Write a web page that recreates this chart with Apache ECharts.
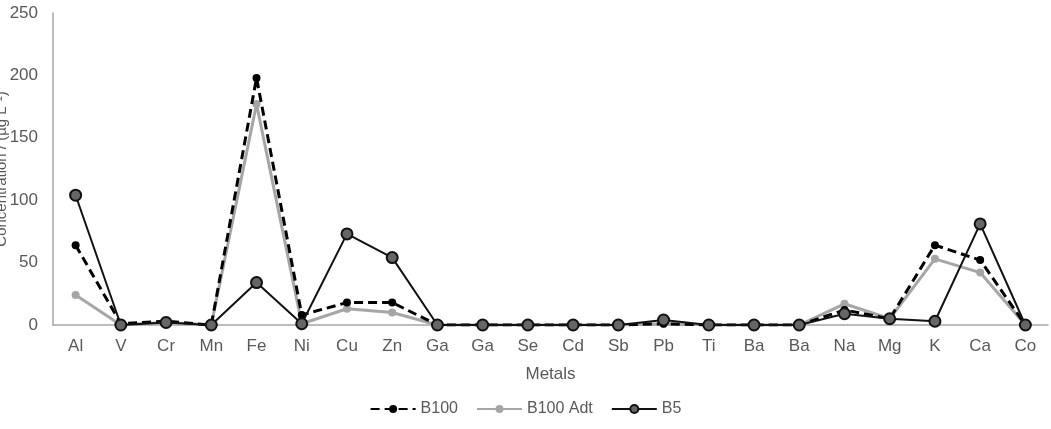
<!DOCTYPE html>
<html>
<head>
<meta charset="utf-8">
<script src="https://cdn.jsdelivr.net/npm/echarts@6/dist/echarts.min.js"></script>
<style>
  html, body { margin: 0; padding: 0; background: #fff; }
  #chart { width: 1051px; height: 429px; }
</style>
</head>
<body>
<div id="chart"></div>
<script>
// categories (metals)
const metals = ['Al', 'V', 'Cr', 'Mn', 'Fe', 'Ni', 'Cu', 'Zn', 'Ga', 'Ga', 'Se', 'Cd', 'Sb', 'Pb', 'Ti', 'Ba', 'Ba', 'Na', 'Mg', 'K', 'Ca', 'Co'];

// concentrations
const b100    = [64, 1, 3, 0, 198, 8, 18, 18, 0, 0, 0, 0, 0, 1, 0, 0, 0, 12, 5, 64, 52, 0];
const b100Adt = [24, 0, 2, 0, 177, 1, 13, 10, 0, 0, 0, 0, 0, 1, 0, 0, 0, 17, 5, 53, 42, 0];
const b5      = [104, 0, 2, 0, 34, 1, 73, 54, 0, 0, 0, 0, 0, 4, 0, 0, 0, 9, 5, 3, 81, 0];

const yTicks = { min: 0, max: 250, interval: 50 };

let myChart = echarts.init(document.getElementById('chart'));
const options = {
    animation: false,
    textStyle: { fontFamily: 'Liberation Sans, Arial, sans-serif' },
    grid: { left: 53, right: 3, top: 13, bottom: 104, outerBoundsMode: 'none', containLabel: false },
    legend: {
        bottom: 7,
        left: 'center',
        itemGap: 18,
        itemWidth: 45,
        itemHeight: 10,
        textStyle: { fontSize: 16, color: '#595959' },
        data: ['B100', 'B100 Adt', 'B5']
    },
    xAxis: {
        type: 'category',
        data: metals,
        name: 'Metals',
        nameLocation: 'middle',
        nameGap: 41,
        nameMoveOverlap: false,
        nameTextStyle: { fontSize: 17, color: '#595959' },
        axisLine: { lineStyle: { color: '#a6a6a6', width: 1.5 } },
        axisTick: { show: false },
        axisLabel: { fontSize: 17, color: '#595959', margin: 13, interval: 0 }
    },
    yAxis: {
        type: 'value',
        min: yTicks.min,
        max: yTicks.max,
        interval: yTicks.interval,
        name: 'Concentration / (µg L⁻¹)',
        nameLocation: 'middle',
        nameGap: 44,
        nameMoveOverlap: false,
        nameTextStyle: { fontSize: 15, color: '#595959' },
        axisLine: { show: true, lineStyle: { color: '#a6a6a6', width: 1.5 } },
        axisTick: { show: false },
        splitLine: { show: false },
        axisLabel: { fontSize: 17, color: '#595959', margin: 15 }
    },
    series: [
        {
            name: 'B100 Adt',
            type: 'line',
            data: b100Adt,
            symbol: 'circle',
            symbolSize: 8,
            lineStyle: { color: '#a6a6a6', width: 3 },
            itemStyle: { color: '#a6a6a6' },
            z: 2
        },
        {
            name: 'B100',
            type: 'line',
            data: b100,
            symbol: 'circle',
            symbolSize: 8,
            lineStyle: { color: '#000', width: 3, type: [9, 5] },
            itemStyle: { color: '#000' },
            z: 3
        },
        {
            name: 'B5',
            type: 'line',
            data: b5,
            symbol: 'circle',
            symbolSize: 11,
            lineStyle: { color: '#111', width: 2 },
            itemStyle: { color: '#666', borderColor: '#111', borderWidth: 2 },
            z: 4
        }
    ]
};
myChart.setOption(options);
</script>
</body>
</html>
